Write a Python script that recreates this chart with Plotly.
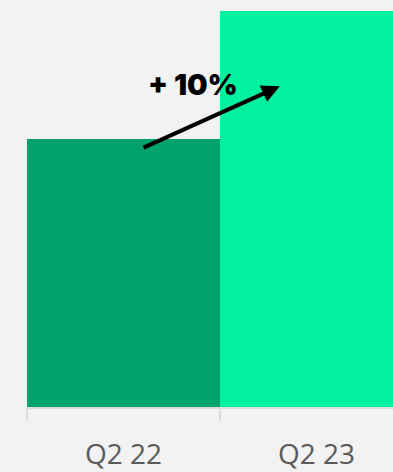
import plotly.graph_objects as go

categories = ["Q2 22", "Q2 23"]
values = [100, 110]
bar_colors = ["#00A36A", "#00F29E"]
change_label = "+ 10%"

y_lo, y_hi = 79.14, 110.86
x_lo = -0.5
x_hi = x_lo + 366 / 193

fig = go.Figure()
fig.add_trace(go.Bar(x=categories, y=values, marker=dict(color=bar_colors, line=dict(width=0)),
                     width=1, hoverinfo="skip"))

fig.add_annotation(x=0.81, y=104.14, ax=0.096, ay=99.3, xref="x", yref="y", axref="x", ayref="y",
                   text="", showarrow=True, arrowhead=2, arrowsize=0.9, arrowwidth=4, arrowcolor="#000000")
fig.add_annotation(x=0.36, y=104.3, xref="x", yref="y", text=change_label, showarrow=False,
                   font=dict(family="Inter", size=29, color="#000000", weight=900))

fig.update_layout(
    width=393, height=472,
    margin=dict(l=27, r=0, t=0, b=65),
    paper_bgcolor="#F2F2F2", plot_bgcolor="#F2F2F2",
    showlegend=False, bargap=0,
    xaxis=dict(type="category", range=[x_lo, x_hi], showgrid=False, showline=True, linecolor="#DDDDDD",
               linewidth=2, ticks="outside", tickson="boundaries", ticklen=12, tickcolor="#DDDDDD",
               tickwidth=2, ticklabelstandoff=21, automargin=False,
               tickfont=dict(family="Open Sans", size=28, color="#5A5A5A", weight=400), zeroline=False),
    yaxis=dict(range=[y_lo, y_hi], visible=False, showgrid=False, zeroline=False, automargin=False),
)

fig.write_html("out.html")
